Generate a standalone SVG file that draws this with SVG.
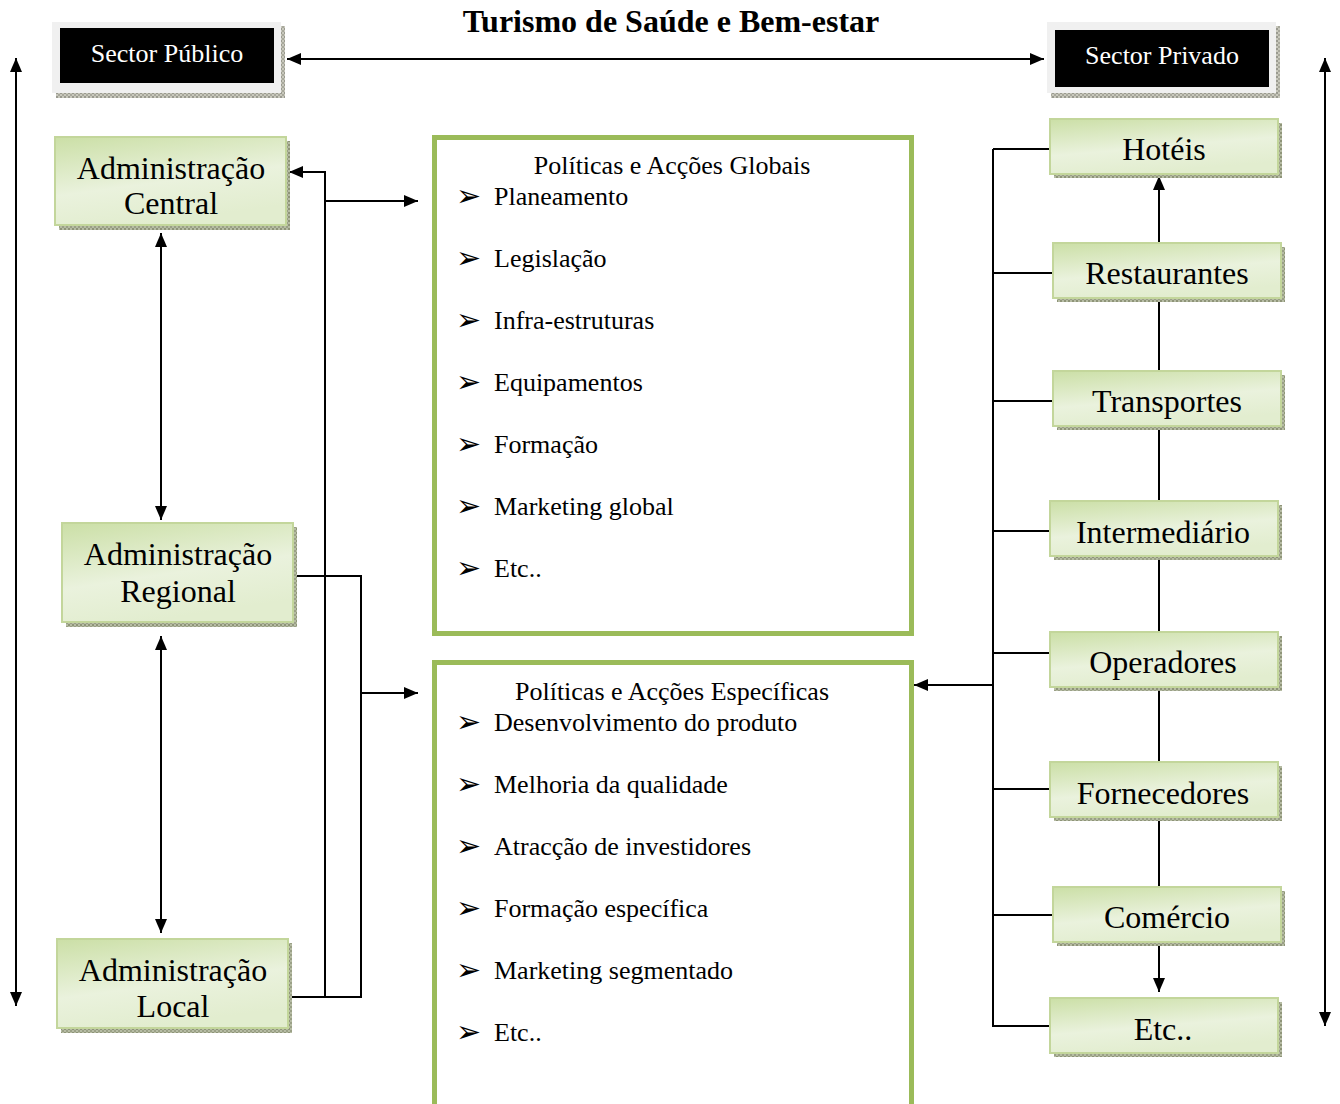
<svg xmlns="http://www.w3.org/2000/svg" width="1340" height="1104" viewBox="0 0 1340 1104">
<defs>
<marker id="ah" viewBox="0 0 14 12" refX="14" refY="6" markerWidth="14" markerHeight="12" markerUnits="userSpaceOnUse" orient="auto-start-reverse"><path d="M0 0L14 6L0 12z" fill="#000"/></marker>
<pattern id="dots" width="4" height="4" patternUnits="userSpaceOnUse"><rect width="4" height="4" fill="#c8c8bc"/><rect width="2" height="2" fill="#9a9a90"/><rect x="2" y="2" width="2" height="2" fill="#a8a89c"/></pattern>
<pattern id="gdots" width="4" height="4" patternUnits="userSpaceOnUse"><rect width="4" height="4" fill="#b6bca4"/><rect width="2" height="2" fill="#8e9478"/><rect x="2" y="2" width="2" height="2" fill="#9aa086"/></pattern>
<linearGradient id="gg" x1="0" y1="0" x2="0.35" y2="1"><stop offset="0" stop-color="#cbdfa6"/><stop offset="0.6" stop-color="#eaf2dd"/><stop offset="1" stop-color="#e2edcf"/></linearGradient>
<style>
.t{font-family:"Liberation Serif","Times New Roman",serif;fill:#000}
.w{font-family:"Liberation Serif","Times New Roman",serif;fill:#fff;font-size:26px}
.n{font-size:32px}
.li{font-size:26px}
.b{font-family:"DejaVu Sans",sans-serif;font-size:30px;fill:#000}
.c{fill:none;stroke:#000;stroke-width:2}
.gb{fill:url(#gg);stroke:#c3d69b;stroke-width:2}
.pb{fill:#fff;stroke:#9bbb59;stroke-width:5}
</style>
</defs>
<rect width="1340" height="1104" fill="#fff"/>
<text class="t" x="671" y="32" font-size="32" font-weight="bold" text-anchor="middle">Turismo de Saúde e Bem-estar</text>

<g id="sector-publico">
<rect x="56" y="26" width="229" height="72" fill="url(#dots)"/>
<rect x="52" y="22" width="229" height="71" fill="#f0f0f0"/>
<rect x="60" y="28" width="214" height="55" fill="#000"/>
<text class="w" x="167" y="62" text-anchor="middle">Sector Público</text>
</g>
<g id="sector-privado">
<rect x="1051" y="26" width="229" height="72" fill="url(#dots)"/>
<rect x="1047" y="22" width="229" height="71" fill="#f0f0f0"/>
<rect x="1055" y="30" width="214" height="57" fill="#000"/>
<text class="w" x="1162" y="64" text-anchor="middle">Sector Privado</text>
</g>

<g id="connectors">
<path class="c" d="M287 59H1044" marker-start="url(#ah)" marker-end="url(#ah)"/>
<path class="c" d="M16 58V1006" marker-start="url(#ah)" marker-end="url(#ah)"/>
<path class="c" d="M1325 58V1026" marker-start="url(#ah)" marker-end="url(#ah)"/>
<path class="c" d="M161 233V520" marker-start="url(#ah)" marker-end="url(#ah)"/>
<path class="c" d="M161 636V933" marker-start="url(#ah)" marker-end="url(#ah)"/>
<path class="c" d="M325 997V172H289" marker-end="url(#ah)"/>
<path class="c" d="M325 201H418" marker-end="url(#ah)"/>
<path class="c" d="M289 997H362"/>
<path class="c" d="M287 576H361V997"/>
<path class="c" d="M361 693H418" marker-end="url(#ah)"/>
<path class="c" d="M993 149V1027M993 149H1050M993 273H1053M993 401H1053M993 531H1050M993 653H1050M993 789H1050M993 915H1053M993 1026H1050"/>
<path class="c" d="M993 685H914" marker-end="url(#ah)"/>
<path class="c" d="M1159 992V176" marker-start="url(#ah)" marker-end="url(#ah)"/>
</g>

<g id="adm-central">
<rect x="59" y="141" width="231" height="89" fill="url(#gdots)"/>
<rect class="gb" x="55" y="137" width="231" height="88"/>
<text class="t n" x="171" y="179" text-anchor="middle">Administração</text>
<text class="t n" x="171" y="214" text-anchor="middle">Central</text>
</g>
<g id="adm-regional">
<rect x="66" y="527" width="231" height="100" fill="url(#gdots)"/>
<rect class="gb" x="62" y="523" width="231" height="99"/>
<text class="t n" x="178" y="565" text-anchor="middle">Administração</text>
<text class="t n" x="178" y="602" text-anchor="middle">Regional</text>
</g>
<g id="adm-local">
<rect x="61" y="943" width="231" height="90" fill="url(#gdots)"/>
<rect class="gb" x="57" y="939" width="231" height="89"/>
<text class="t n" x="173" y="981" text-anchor="middle">Administração</text>
<text class="t n" x="173" y="1017" text-anchor="middle">Local</text>
</g>

<g id="politicas-globais">
<rect class="pb" x="434.5" y="137.5" width="477" height="496"/>
<text class="t li" x="672" y="174" text-anchor="middle">Políticas e Acções Globais</text>
<text class="b" x="456" y="206">➢</text><text class="t li" x="494" y="205">Planeamento</text>
<text class="b" x="456" y="268">➢</text><text class="t li" x="494" y="267">Legislação</text>
<text class="b" x="456" y="330">➢</text><text class="t li" x="494" y="329">Infra-estruturas</text>
<text class="b" x="456" y="392">➢</text><text class="t li" x="494" y="391">Equipamentos</text>
<text class="b" x="456" y="454">➢</text><text class="t li" x="494" y="453">Formação</text>
<text class="b" x="456" y="516">➢</text><text class="t li" x="494" y="515">Marketing global</text>
<text class="b" x="456" y="578">➢</text><text class="t li" x="494" y="577">Etc..</text>
</g>
<g id="politicas-especificas">
<rect class="pb" x="434.5" y="662.5" width="477" height="460"/>
<text class="t li" x="672" y="700" text-anchor="middle">Políticas e Acções Específicas</text>
<text class="b" x="456" y="732">➢</text><text class="t li" x="494" y="731">Desenvolvimento do produto</text>
<text class="b" x="456" y="794">➢</text><text class="t li" x="494" y="793">Melhoria da qualidade</text>
<text class="b" x="456" y="856">➢</text><text class="t li" x="494" y="855">Atracção de investidores</text>
<text class="b" x="456" y="918">➢</text><text class="t li" x="494" y="917">Formação específica</text>
<text class="b" x="456" y="980">➢</text><text class="t li" x="494" y="979">Marketing segmentado</text>
<text class="b" x="456" y="1042">➢</text><text class="t li" x="494" y="1041">Etc..</text>
</g>

<g id="hoteis">
<rect x="1054" y="123" width="228" height="55" fill="url(#gdots)"/>
<rect class="gb" x="1050" y="119" width="228" height="55"/>
<text class="t n" x="1164" y="160" text-anchor="middle">Hotéis</text>
</g>
<g id="restaurantes">
<rect x="1057" y="247" width="228" height="55" fill="url(#gdots)"/>
<rect class="gb" x="1053" y="243" width="228" height="55"/>
<text class="t n" x="1167" y="284" text-anchor="middle">Restaurantes</text>
</g>
<g id="transportes">
<rect x="1057" y="375" width="228" height="55" fill="url(#gdots)"/>
<rect class="gb" x="1053" y="371" width="228" height="55"/>
<text class="t n" x="1167" y="412" text-anchor="middle">Transportes</text>
</g>
<g id="intermediario">
<rect x="1054" y="505" width="228" height="55" fill="url(#gdots)"/>
<rect class="gb" x="1050" y="501" width="228" height="55"/>
<text class="t n" x="1163" y="543" text-anchor="middle">Intermediário</text>
</g>
<g id="operadores">
<rect x="1054" y="636" width="228" height="55" fill="url(#gdots)"/>
<rect class="gb" x="1050" y="632" width="228" height="55"/>
<text class="t n" x="1163" y="673" text-anchor="middle">Operadores</text>
</g>
<g id="fornecedores">
<rect x="1054" y="766" width="228" height="55" fill="url(#gdots)"/>
<rect class="gb" x="1050" y="762" width="228" height="55"/>
<text class="t n" x="1163" y="804" text-anchor="middle">Fornecedores</text>
</g>
<g id="comercio">
<rect x="1057" y="891" width="228" height="55" fill="url(#gdots)"/>
<rect class="gb" x="1053" y="887" width="228" height="55"/>
<text class="t n" x="1167" y="928" text-anchor="middle">Comércio</text>
</g>
<g id="etc">
<rect x="1054" y="1002" width="228" height="55" fill="url(#gdots)"/>
<rect class="gb" x="1050" y="998" width="228" height="55"/>
<text class="t n" x="1163" y="1040" text-anchor="middle">Etc..</text>
</g>
</svg>
